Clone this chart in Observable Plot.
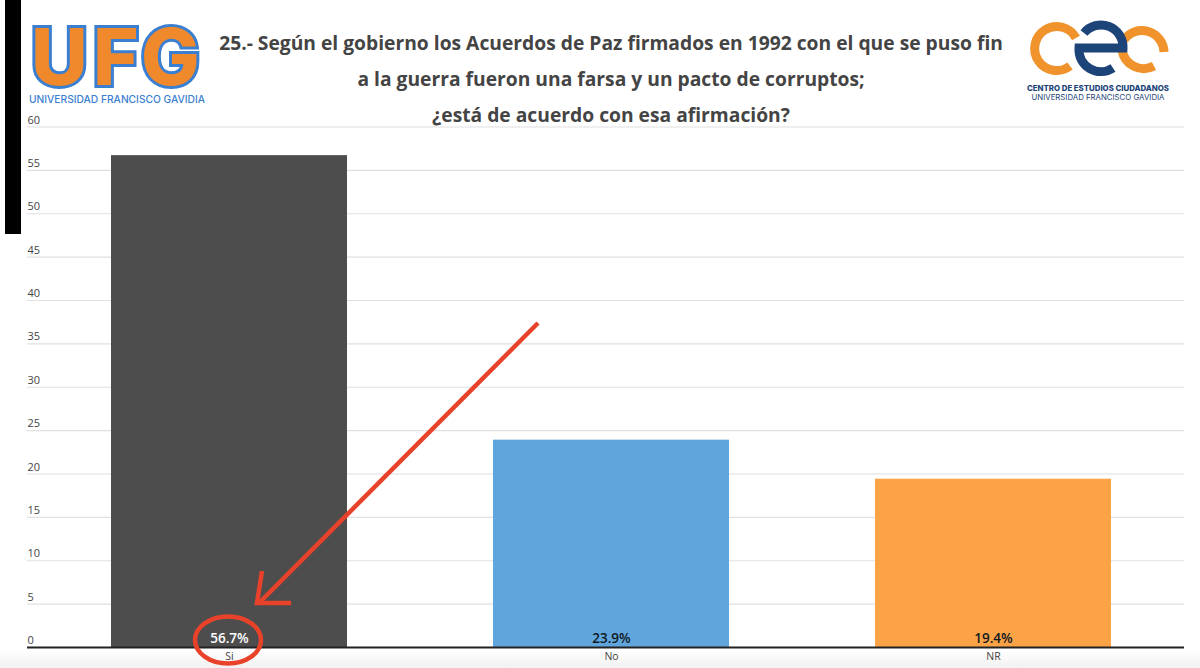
<!DOCTYPE html>
<html><head><meta charset="utf-8">
<script src="https://cdn.jsdelivr.net/npm/d3@7"></script>
<script src="https://cdn.jsdelivr.net/npm/@observablehq/plot@0.6"></script>
<style>
html,body{margin:0;padding:0;background:#fff;overflow:hidden}
#wrap{position:relative;width:1200px;height:668px;background:linear-gradient(to bottom,#fff 0,#fff 650px,#f1f1f1 668px)}
#wrap>svg,#plot svg{position:absolute;left:0;top:0;background:transparent}
#title{position:absolute;left:190px;width:842px;top:25px;text-align:center;font:700 19.25px/36px "Open Sans",sans-serif;color:#444;white-space:nowrap}
</style></head><body>
<div id="wrap"><div id="plot"></div>
<div id="title">25.- Según el gobierno los Acuerdos de Paz firmados en 1992 con el que se puso fin<br>a la guerra fueron una farsa y un pacto de corruptos;<br>¿está de acuerdo con esa afirmación?</div>
<svg width="1200" height="668" viewBox="0 0 1200 668" style="pointer-events:none">
  <rect x="5" y="0" width="16" height="234" fill="#000"/>
  <g font-family="Inter, 'DejaVu Sans', sans-serif">
    <text x="31 93 141" y="85" font-size="78" font-weight="800" fill="#f0882c" stroke="#3a7fd0" stroke-width="6" stroke-linejoin="miter" paint-order="stroke">UFG</text>
    <text x="29" y="103" font-size="10.5" font-weight="500" fill="#3a7fd0" textLength="176" lengthAdjust="spacingAndGlyphs">UNIVERSIDAD FRANCISCO GAVIDIA</text>
    <text x="1098" y="91" text-anchor="middle" font-size="7.8" font-weight="800" fill="#1d4478" textLength="142" lengthAdjust="spacingAndGlyphs">CENTRO DE ESTUDIOS CIUDADANOS</text>
    <text x="1098" y="100" text-anchor="middle" font-size="7.6" fill="#1d4478" textLength="133" lengthAdjust="spacingAndGlyphs">UNIVERSIDAD FRANCISCO GAVIDIA</text>
  </g>
  <g fill="none" stroke-width="9">
    <path d="M1070 66 A22 22 0 1 1 1076 38" stroke="#f1932d"/>
    <path d="M1124 40 A22 22 0 0 1 1164 52" stroke="#f1932d"/>
    <path d="M1122 50 A22 22 0 0 0 1154 66" stroke="#f1932d"/>
    <path d="M1084 33 A22 22 0 0 1 1123 48 L1079 48 A22 22 0 0 0 1113 68" stroke="#1d4478"/>
  </g>
  <g fill="none" stroke="#e8432a" stroke-width="4.5">
    <path d="M538 323 L260 602"/>
    <path d="M262 571 L257 603 L291 603"/>
    <ellipse cx="228" cy="640" rx="33" ry="23.5"/>
  </g>
</svg></div>
<script>
const categories = ["Si", "No", "NR"];
const values = [56.7, 23.9, 19.4];
const valueLabels = ["56.7%", "23.9%", "19.4%"];
const colors = ["#4d4d4d", "#60a5dc", "#fba346"];
const labelColors = ["#ffffff", "#111a22", "#111a22"];
const yTicks = [0,5,10,15,20,25,30,35,40,45,50,55,60];
const rows = categories.map((c,i)=>({c, v:values[i], l:valueLabels[i], col:colors[i], lc:labelColors[i]}));
const font = '"Open Sans", sans-serif';
const chart = Plot.plot({
  width:1200, height:668, marginTop:126.5, marginBottom:21, marginLeft:27, marginRight:16,
  style:{background:"transparent", fontFamily:font, color:"#444"},
  x:{domain:categories, range:[38,1184], paddingInner:0.382, paddingOuter:0.191, align:0.5, label:null, axis:null},
  y:{domain:[0,60], label:null, axis:null},
  marks:[
    Plot.ruleY(yTicks.slice(1),{stroke:"#e0e0e0", strokeWidth:1.2}),
    Plot.barY(rows,{x:"c", y:"v", fill:"col"}),
    Plot.ruleY([0],{stroke:"#222", strokeWidth:2}),
    Plot.axisY({ticks:yTicks, tickSize:0, textAnchor:"start", dx:9, dy:-7, fontSize:11, label:null, tickFormat:d=>String(d)}),
    Plot.text(rows,{x:"c", y:0, text:"l", dy:-9, fill:"lc", fontSize:13.5, fontWeight:600}),
    Plot.axisX({tickSize:0, fontSize:10.5, label:null, tickPadding:5})
  ]
});
document.getElementById("plot").appendChild(chart);
</script>
</body></html>
